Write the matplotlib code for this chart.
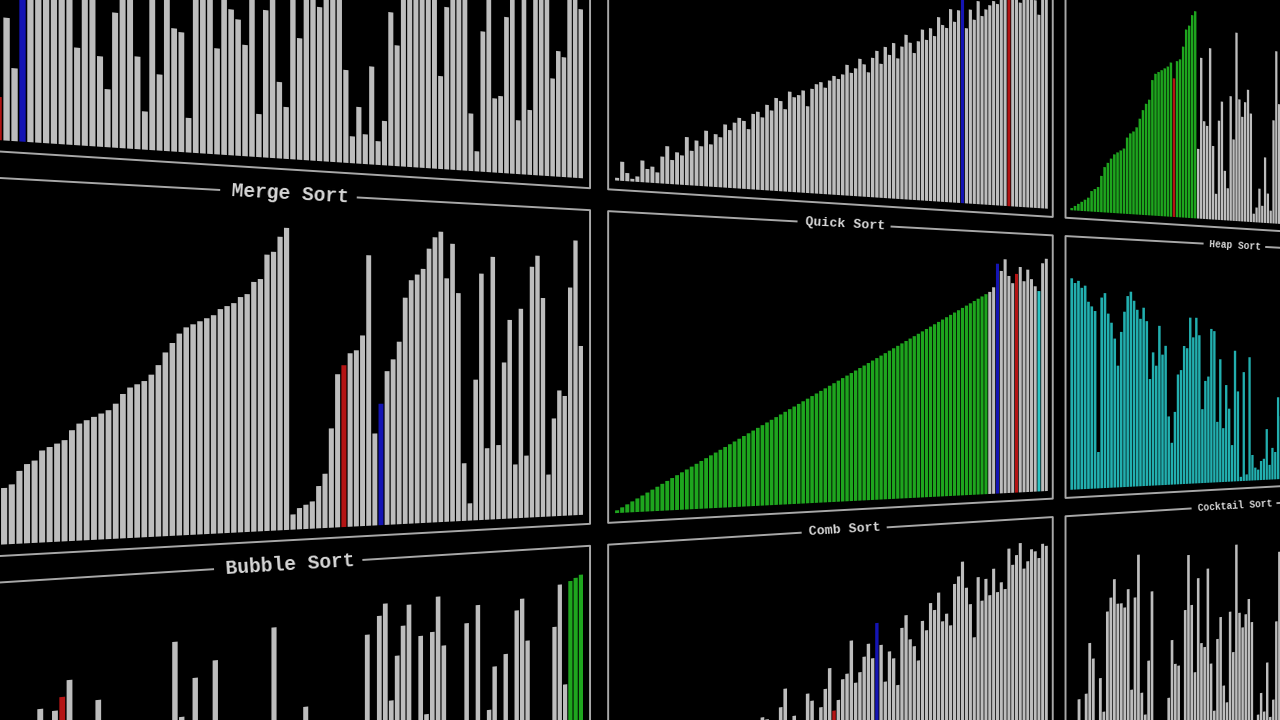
import numpy as np
import matplotlib
matplotlib.use("Agg")
import matplotlib.pyplot as plt
from matplotlib.transforms import Affine2D, Transform

# bar heights (0-100), one list per panel, left to right
TOPLEFT = [62, 5, 53, 39, 94, 3, 13,
           37, 22, 70, 90, 55, 75, 85, 60, 95, 30,
           80, 66, 28, 18, 42, 72, 88, 29, 12, 91,
           24, 78, 39, 38, 11, 83, 97, 69, 34, 93,
           47, 44, 36, 86, 14, 48, 74, 25, 17, 89,
           40, 77, 99, 51, 82, 64, 94, 31, 9, 19,
           10, 33, 8, 15, 52, 41, 96, 87, 79, 92,
           68, 84, 32, 56, 73, 98, 81, 20, 7, 49,
           76, 26, 27, 55, 85, 19, 71, 23, 88, 65,
           100, 35, 45, 43, 80, 72, 61]
TOPMID = [1, 7, 3, 1, 2, 8, 5, 6, 4, 10,
          14, 9, 12, 11, 18, 13, 17, 15, 21, 16,
          20, 19, 24, 22, 25, 27, 26, 23, 29, 30,
          28, 33, 31, 36, 35, 32, 39, 37, 38, 40,
          34, 41, 43, 44, 42, 45, 47, 46, 48, 52,
          49, 51, 55, 53, 50, 56, 59, 54, 61, 58,
          63, 57, 62, 67, 64, 60, 65, 70, 66, 71,
          68, 76, 73, 72, 80, 75, 80, 90, 73, 81,
          77, 85, 79, 82, 84, 86, 85, 93, 88, 97,
          91, 99, 87, 95, 92, 100, 89, 83, 96, 98]
TOPRIGHT = [1, 2, 3, 4, 5, 6, 9, 10, 11, 16,
            20, 22, 24, 26, 27, 28, 29, 34, 36, 37,
            39, 43, 47, 50, 52, 61, 64, 65, 66, 67,
            68, 70, 63, 71, 72, 78, 86, 88, 93, 95,
            32, 74, 45, 43, 79, 34, 12, 46, 55, 23,
            15, 58, 38, 88, 57, 49, 56, 62, 51, 4,
            7, 16, 8, 31, 14, 6, 49, 82,
            57, 21, 44, 69, 13, 90, 35, 60, 18, 53,
            77, 41, 25, 84, 30, 59, 8, 73, 47, 19,
            91, 38, 62, 11, 54, 75, 27, 81, 42, 17,
            66, 33, 87, 48, 24, 70, 56, 15, 80, 39]
MERGE = [2, 4, 6, 10, 11, 12, 13,
         17, 18, 22, 24, 25, 28, 29, 30, 31, 34,
         36, 37, 38, 39, 40, 42, 45, 47, 48, 49,
         51, 54, 58, 61, 64, 66, 67, 68, 69, 70,
         72, 73, 74, 76, 77, 81, 82, 90, 91, 96, 99,
         5, 7, 8, 9, 14, 18, 33, 51, 54, 58,
         59, 64, 91, 31, 41, 52, 56, 62, 77, 83,
         85, 87, 94, 98, 100, 84, 96, 79, 20, 6,
         49, 86, 25, 92, 26, 55, 70, 19, 74, 22,
         89, 93, 78, 15, 35, 45, 43, 82, 99, 61]
QUICK = [1, 2, 3, 4, 5, 6, 7, 8, 9, 10,
         11, 12, 13, 14, 15, 16, 17, 18, 19, 20,
         21, 22, 23, 24, 25, 26, 27, 28, 29, 30,
         31, 32, 33, 34, 35, 36, 37, 38, 39, 40,
         41, 42, 43, 44, 45, 46, 47, 48, 49, 50,
         51, 52, 53, 54, 55, 56, 57, 58, 59, 60,
         61, 62, 63, 64, 65, 66, 67, 68, 69, 70,
         71, 72, 73, 74, 75, 76, 77, 78, 79, 80,
         81, 82, 83, 84,
         85, 87, 97, 94, 99, 92, 89, 93, 96, 90,
         95, 91, 88, 86, 98, 100]
HEAP = [92, 90, 91, 88, 89, 82, 80, 78, 16, 84,
        86, 77, 73, 66, 54, 69, 78, 85, 87, 83,
        79, 75, 80, 74, 48, 60, 54, 72, 59, 63,
        31, 19, 33, 50, 52, 63, 62, 76, 67, 76,
        68, 34, 47, 49, 71, 70, 28, 57, 25, 45,
        34, 17, 61, 42, 2, 51, 3, 58, 12, 6,
        5, 9, 10, 24, 7, 15, 13, 39, 30,
        20, 44, 8, 36, 27, 11, 40, 22, 4, 35,
        18, 29, 1, 26, 14, 37, 21, 43, 23, 32,
        41, 38, 46, 53, 55, 56, 64, 65, 81, 91,
        93, 94, 95, 96, 97, 98, 99, 100]
BUBBLE = [34, 12, 41, 7, 28, 45, 19, 3, 38, 25,
          44, 16, 71, 30, 70, 74, 79, 9, 36, 22,
          72, 40, 14, 27, 43, 5, 33, 18, 42, 11,
          29, 88, 64, 37, 76, 21, 8, 81, 35, 24,
          44, 13, 31, 39, 6, 26, 90, 17, 41, 32,
          10, 63, 23, 45, 15, 34, 2, 40, 20, 28,
          43, 85, 11, 91, 95, 62, 77, 87, 94, 37,
          83, 56, 84, 96, 79, 30, 4, 42, 86, 19,
          92, 35, 55, 70, 25, 74, 39, 89, 93, 78,
          14, 44, 27, 33, 82, 97, 61, 98, 99, 100]
COMB = [3, 8, 1, 5, 12, 2, 9, 14, 6, 4,
        11, 17, 7, 15, 10, 20, 13, 18, 24, 16,
        21, 27, 19, 23, 30, 22, 26, 33, 25, 29,
        40, 39, 28, 32, 43, 50, 31, 39, 34, 33,
        47, 44, 30, 41, 48, 56, 39, 43, 51, 53,
        66, 49, 53, 59, 64, 58, 72, 63, 48, 60,
        57, 46, 69, 74, 64, 61, 55, 71, 67, 78,
        75, 82, 70, 73, 68, 85, 88, 94, 83, 76,
        62, 87, 77, 86, 79, 90, 80, 84, 81, 98,
        91, 95, 100, 89, 92, 97, 96, 93, 99, 98]
COCKTAIL = [14, 8, 30, 18, 32, 54, 47, 5, 38, 23,
            67, 73, 81, 70, 70, 68, 76, 31, 72, 91,
            29, 19, 43, 74, 3, 10, 6, 13, 25, 51,
            40, 39, 4, 64, 89, 66, 35, 78, 48, 46,
            82, 38, 16, 49, 59, 27, 19, 61, 42, 92,
            60, 53, 59, 66, 55, 2, 11, 21, 12, 35,
            9, 17, 54, 87, 43, 95, 57, 83, 44, 71,
            36, 63, 50, 77, 28, 84, 45, 62, 37, 58,
            80, 33, 69, 26, 75, 52, 34, 65, 24, 56,
            79, 41, 68, 20, 48, 85, 93, 96, 98, 100]

GRAY, GREEN, TEAL = '#bdbdbd', '#1ea51e', '#22afaf'
RED, BLUE, CYAN = '#b41414', '#1414b4', '#2ec4c4'
FRAME, TEXT = '#a8a8a8', '#d6d6d6'

# (row, col, title, values, bar colour, sorted slice, highlighted bars)
PANELS = [
    (-1, 0, '', TOPLEFT, GRAY, None, {6: RED, 9: BLUE}),
    (-1, 1, '', TOPMID, GRAY, None, {77: BLUE, 89: RED}),
    (-1, 2, '', TOPRIGHT, GRAY, (0, 40), {32: RED}),
    (0, 0, 'Merge Sort', MERGE, GRAY, None, {56: RED, 62: BLUE}),
    (0, 1, 'Quick Sort', QUICK, GRAY, (0, 84), {86: BLUE, 91: RED, 97: CYAN}),
    (0, 2, 'Heap Sort', HEAP, TEAL, None, {}),
    (1, 0, 'Bubble Sort', BUBBLE, GRAY, (97, 100), {15: RED}),
    (1, 1, 'Comb Sort', COMB, GRAY, None, {46: RED, 56: BLUE}),
    (1, 2, 'Cocktail Sort', COCKTAIL, GRAY, None, {}),
]

# wall seen in perspective: vanishing point far to the right on the horizon
VANISH_X = 3468.0
HORIZON_Y = 367.0
UNIT_PX = 378.0
C = UNIT_PX / VANISH_X

PANEL_W, PANEL_H = 2.048, 1.0
COL_STEP, ROW_STEP = 2.118, 1.07
COL0_U, ROW0_TOP = -0.167, 0.5
PAD_U, PAD_V = 0.025, 0.03
FULL_H = 0.88
CHAR_W = 0.037


class Wall(Transform):
    # wall units (u right, v up) -> picture pixels
    input_dims = 2
    output_dims = 2
    is_separable = False
    has_inverse = False

    def transform_non_affine(self, values):
        values = np.asarray(values, dtype=float)
        w = 1.0 + C * values[:, 0]
        x = VANISH_X * C * values[:, 0] / w
        y = HORIZON_Y - values[:, 1] * UNIT_PX / w
        return np.column_stack([x, y])


fig = plt.figure(figsize=(12.8, 7.2), dpi=100, facecolor='black')
ax = fig.add_axes([0, 0, 1, 1])
ax.set_facecolor('black')
ax.set_autoscale_on(False)
ax.set_xlim(0, 1280)
ax.set_ylim(720, 0)
ax.axis('off')

wall = Wall()
to_screen = wall + ax.transData

for row, col, title, values, base, done, marks in PANELS:
    u0 = COL0_U + col * COL_STEP
    u1 = u0 + PANEL_W
    vt = ROW0_TOP - row * ROW_STEP
    vb = vt - PANEL_H
    n = len(values)

    colors = [base] * n
    if done:
        for i in range(done[0], done[1]):
            colors[i] = GREEN
    for i, c in marks.items():
        colors[i] = c

    pitch = (PANEL_W - 2 * PAD_U) / n
    to_wall = Affine2D().scale(pitch, FULL_H / 100).translate(u0 + PAD_U + pitch / 2, vb + PAD_V)
    ax.bar(np.arange(n), values, width=0.8, color=colors, linewidth=0,
           transform=to_wall + to_screen)

    # frame with the title set into the top edge
    uc = u0 + PANEL_W / 2 - 0.02
    gap = CHAR_W * len(title) / 2 + 0.03 if title else 0.0
    kw = dict(color=FRAME, lw=1.4, transform=to_screen, solid_capstyle='butt')
    ax.plot([uc - gap, u0, u0, u1, u1, uc + gap], [vt, vt, vb, vb, vt, vt], **kw)

    if title:
        px, py = wall.transform([(uc, vt)])[0]
        p1, p2 = to_screen.transform([(uc - 0.1, vt), (uc + 0.1, vt)])
        angle = np.degrees(np.arctan2(p2[1] - p1[1], p2[0] - p1[0]))
        s = UNIT_PX / (1.0 + C * uc)
        em_px = CHAR_W * (s * s / UNIT_PX) / 0.6
        ax.text(px, py, title, ha='center', va='center', rotation=angle,
                rotation_mode='anchor', fontsize=em_px * 0.72, color=TEXT,
                family='Liberation Mono', weight='bold')

fig.savefig('out.png', dpi=100, facecolor='black')
